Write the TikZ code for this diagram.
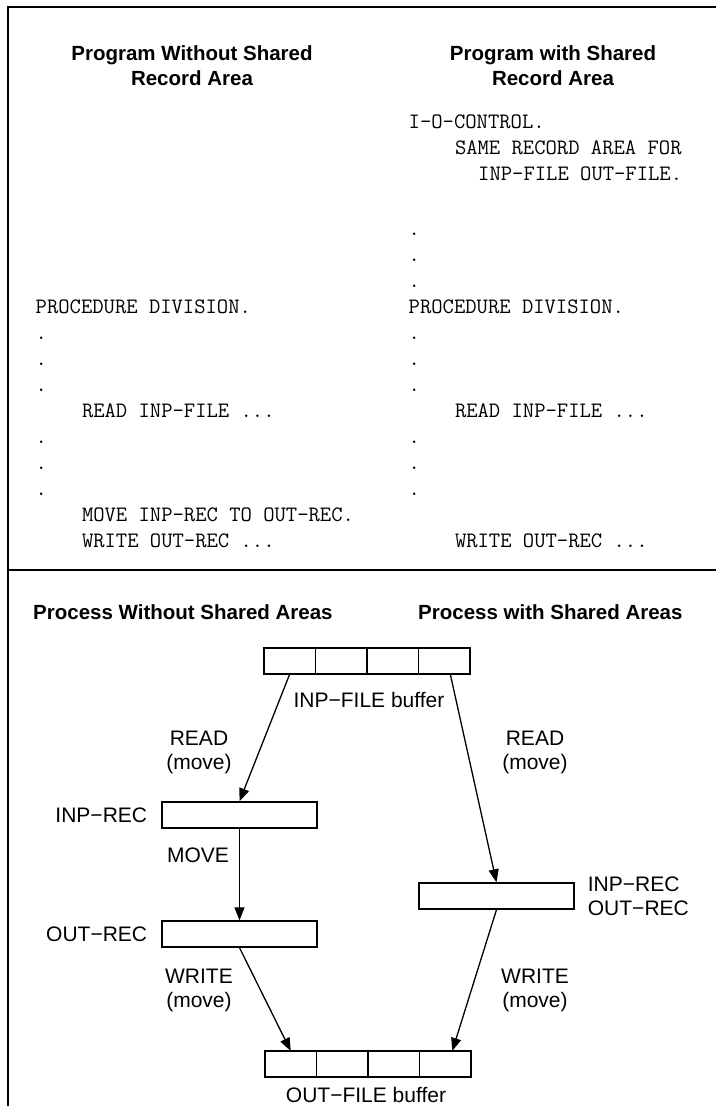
\documentclass[tikz,border=0pt]{standalone}
\usepackage{fontspec}
\setmainfont{Liberation Sans}
\usetikzlibrary{positioning,arrows.meta}

\begin{document}
\begin{tikzpicture}[
        x=1pt, y=-1pt,
        heading/.style={font=\fontsize{20.5}{25}\selectfont\bfseries, align=center, inner sep=0pt},
        cobol/.style={font=\ttfamily\fontsize{22}{26}\selectfont, inner sep=0pt, anchor=base west},
        caption/.style={font=\fontsize{21}{24}\selectfont, align=center, inner sep=0pt},
        record/.style={rectangle, draw, line width=1.4pt, minimum width=155pt, minimum height=26pt, inner sep=0pt},
        cell/.style={rectangle, draw, line width=1.4pt, minimum width=51.5pt, minimum height=26pt, inner sep=0pt, outer sep=0pt},
        arrow/.style={line width=1.3pt, -{Triangle[length=13pt,width=10pt]}}
    ]
        \useasboundingbox (0,0) rectangle (716,1106);

        % Frame
        \draw[line width=2pt] (716,7) -- (8,7) -- (8,1106);
        \draw[line width=2pt] (8,570) -- (716,570);

        % Headings
        \node[heading, anchor=north] (progA) at (192,45) {Program Without Shared\\Record Area};
        \node[heading, anchor=north] (progB) at (553,45) {Program with Shared\\Record Area};

        % Program without shared record area
        \node[cobol] (procA) at (35.5,313) {PROCEDURE DIVISION.};
        \foreach \y in {339,365,391,443,469,495}
            \node[cobol] (dotA\y) at (35.5,\y) {.};
        \node[cobol] (readA) at (81.8,417) {READ INP-FILE ...};
        \node[cobol] (moveA) at (81.8,521) {MOVE INP-REC TO OUT-REC.};
        \node[cobol] (writeA) at (81.8,547) {WRITE OUT-REC ...};

        % Program with shared record area
        \node[cobol] (ioctl) at (408.5,128) {I-O-CONTROL.};
        \node[cobol] (same) at (454.8,154) {SAME RECORD AREA FOR};
        \node[cobol] (files) at (478,180) {INP-FILE OUT-FILE.};
        \foreach \y in {235,261,287,339,365,391,443,469,495}
            \node[cobol] (dotB\y) at (408.5,\y) {.};
        \node[cobol] (procB) at (408.5,313) {PROCEDURE DIVISION.};
        \node[cobol] (readB) at (454.8,417) {READ INP-FILE ...};
        \node[cobol] (writeB) at (454.8,547) {WRITE OUT-REC ...};

        % Process headings
        \node[heading, anchor=base west] (procsA) at (33,619) {Process Without Shared Areas};
        \node[heading, anchor=base west] (procsB) at (418,619) {Process with Shared Areas};

        % Buffers
        \node[cell] (inp1) at (289.75,661) {};
        \node[cell, right=0pt of inp1] (inp2) {};
        \node[cell, right=0pt of inp2] (inp3) {};
        \node[cell, right=0pt of inp3] (inp4) {};
        \node[caption, anchor=base] (inpbuf) at (369,707) {INP−FILE buffer};

        \node[cell] (outp1) at (290.75,1064) {};
        \node[cell, right=0pt of outp1] (outp2) {};
        \node[cell, right=0pt of outp2] (outp3) {};
        \node[cell, right=0pt of outp3] (outp4) {};
        \node[caption, anchor=base] (outbuf) at (366,1102) {OUT−FILE buffer};

        % Record areas
        \node[record] (inprec) at (239.5,815) {};
        \node[caption, left=14pt of inprec] (inprecl) {INP−REC};
        \node[record] (outrec) at (239.5,934) {};
        \node[caption, left=14pt of outrec] (outrecl) {OUT−REC};
        \node[record] (shared) at (496.5,896) {};
        \node[caption, align=left, right=13pt of shared] (sharedl) {INP−REC\\OUT−REC};

        % Step labels
        \node[caption, anchor=north] (readl) at (199,731) {READ\\(move)};
        \node[caption, anchor=north] (readr) at (535,731) {READ\\(move)};
        \node[caption, anchor=base] (movel) at (198,862) {MOVE};
        \node[caption, anchor=north] (writel) at (199,969) {WRITE\\(move)};
        \node[caption, anchor=north] (writer) at (535,969) {WRITE\\(move)};

        % Arrows
        \draw[arrow] (inp1.south) -- (inprec.north);
        \draw[arrow] ([xshift=6pt]inp4.south) -- (shared.north);
        \draw[arrow] (inprec) -- (outrec);
        \draw[arrow] (outrec.south) -- (outp1.north);
        \draw[arrow] (shared.south) -- ([xshift=7pt]outp4.north);
    \end{tikzpicture}
\end{document}
